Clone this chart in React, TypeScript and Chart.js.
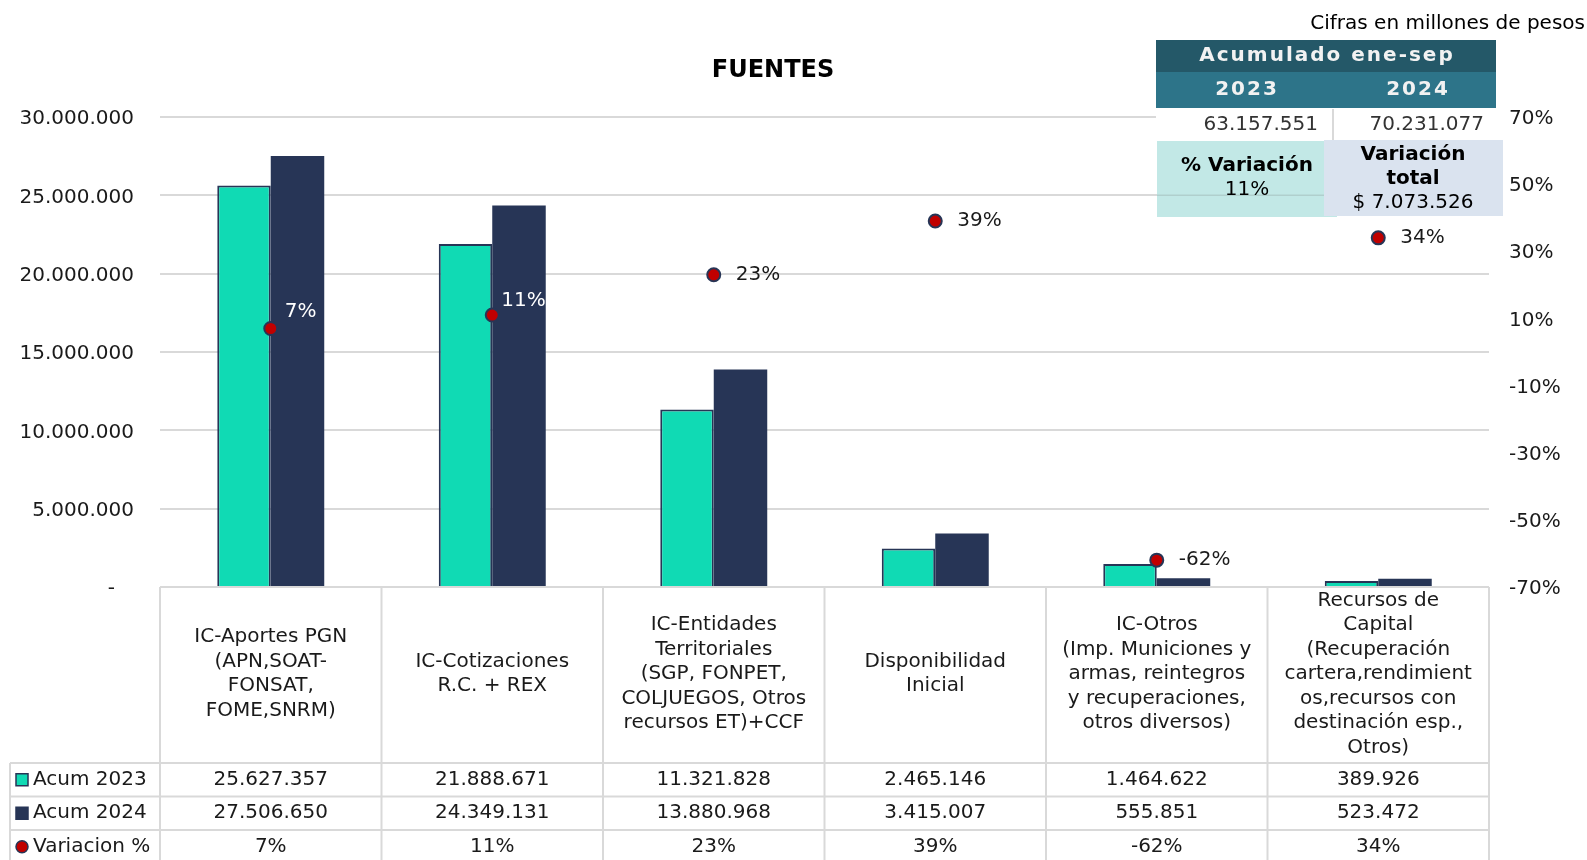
import React, { useEffect, useRef } from "react";
import { Chart, registerables } from "chart.js";

Chart.register(...registerables);

const categories: string[][] = [
  ["IC-Aportes PGN", "(APN,SOAT-", "FONSAT,", "FOME,SNRM)"],
  ["IC-Cotizaciones", "R.C. + REX"],
  ["IC-Entidades", "Territoriales", "(SGP, FONPET,", "COLJUEGOS, Otros", "recursos ET)+CCF"],
  ["Disponibilidad", "Inicial"],
  ["IC-Otros", "(Imp. Municiones y", "armas, reintegros", "y recuperaciones,", "otros diversos)"],
  ["Recursos de", "Capital", "(Recuperación", "cartera,rendimient", "os,recursos con", "destinación esp.,", "Otros)"],
];
const acum2023: number[] = [25627357, 21888671, 11321828, 2465146, 1464622, 389926];
const acum2024: number[] = [27506650, 24349131, 13880968, 3415007, 555851, 523472];
const variacion: number[] = [7, 11, 23, 39, -62, 34];
const seriesNames: string[] = ["Acum 2023", "Acum 2024", "Variacion %"];
const leftTicks = { min: 0, max: 30000000, step: 5000000 };
const rightTicks = { min: -70, max: 70, step: 20 };
const title = "FUENTES";
const unitsNote = "Cifras en millones de pesos";
const summaryHeader = "Acumulado ene-sep";
const summaryYears: string[] = ["2023", "2024"];
const summaryTotals: number[] = [63157551, 70231077];
const summaryPct = "11%";
const summaryDiff = "$ 7.073.526";

const TEAL = "#10dab4";
const NAVY = "#273556";
const RED = "#c00000";
const GRID = "#d9d9d9";
const TEXT = "#1a1a1a";
const FONT = "'DejaVu Sans', Verdana, sans-serif";

const fmt = (n: number) => Math.round(n).toString().replace(/\B(?=(\d{3})+(?!\d))/g, ".");

const tablePlugin = {
  id: "fuentesTable",
  afterDatasetsDraw(chart: any) {
    const ctx = chart.ctx;
    const meta = chart.getDatasetMeta(2);
    const dx = [14, 9, 22, 22, 22, 22];
    const dy = [-17, -14, 0, 0, 0, 0];
    const colors = ["#ffffff", "#ffffff", TEXT, TEXT, TEXT, TEXT];
    ctx.save();
    ctx.font = `20px ${FONT}`;
    ctx.textBaseline = "middle";
    ctx.textAlign = "left";
    meta.data.forEach((pt: any, i: number) => {
      ctx.fillStyle = colors[i];
      ctx.fillText(`${variacion[i]}%`, pt.x + dx[i], pt.y + dy[i]);
    });
    ctx.restore();
  },
  afterDraw(chart: any) {
    const ctx = chart.ctx;
    const { left, right, bottom } = chart.chartArea;
    const n = categories.length;
    const cw = (right - left) / n;
    const xs = chart.scales.x;
    const catBottom = 763;
    const rowH = 33.5;
    const H = chart.height;
    ctx.save();

    // grid lines of table
    ctx.strokeStyle = GRID;
    ctx.lineWidth = 2;
    ctx.beginPath();
    ctx.moveTo(left, bottom);
    ctx.lineTo(right, bottom);
    for (let k = 0; k <= n; k++) {
      const x = left + k * cw;
      ctx.moveTo(x, bottom);
      ctx.lineTo(x, H);
    }
    for (let r = 0; r < 3; r++) {
      const y = catBottom + r * rowH;
      ctx.moveTo(10, y);
      ctx.lineTo(right, y);
    }
    ctx.moveTo(10, catBottom);
    ctx.lineTo(10, H);
    ctx.stroke();

    ctx.fillStyle = TEXT;
    ctx.textAlign = "center";
    ctx.textBaseline = "middle";
    ctx.font = `20px ${FONT}`;
    const lh = 24.5;
    const cy = (bottom + catBottom) / 2 - 1;
    categories.forEach((lines, i) => {
      const cx = xs.getPixelForValue(i);
      lines.forEach((ln, j) => {
        ctx.fillText(ln, cx, cy + (j - (lines.length - 1) / 2) * lh);
      });
    });
    const rows = [acum2023.map(fmt), acum2024.map(fmt), variacion.map((v) => `${v}%`)];
    rows.forEach((vals, r) => {
      const y = catBottom + (r + 0.5) * rowH;
      vals.forEach((v, i) => ctx.fillText(v, xs.getPixelForValue(i), y));
    });

    // legend column
    ctx.textAlign = "left";
    seriesNames.forEach((name, r) => {
      const y = catBottom + (r + 0.5) * rowH;
      if (r < 2) {
        ctx.fillStyle = r === 0 ? TEAL : NAVY;
        ctx.fillRect(16, y - 6, 12, 12);
        ctx.strokeStyle = NAVY;
        ctx.lineWidth = 1.5;
        ctx.strokeRect(16, y - 6, 12, 12);
      } else {
        ctx.beginPath();
        ctx.arc(22, y, 6, 0, Math.PI * 2);
        ctx.fillStyle = RED;
        ctx.fill();
        ctx.strokeStyle = NAVY;
        ctx.lineWidth = 1.5;
        ctx.stroke();
      }
      ctx.fillStyle = TEXT;
      ctx.fillText(name, 33, y);
    });

    // title
    ctx.textAlign = "center";
    ctx.font = `bold 24px ${FONT}`;
    ctx.fillStyle = "#000";
    ctx.fillText(title, 773, 71);

    ctx.textAlign = "right";
    ctx.font = `20px ${FONT}`;
    ctx.fillText(unitsNote, 1585, 24);

    // summary table
    ctx.fillStyle = "#245868";
    ctx.fillRect(1156, 40, 340, 32);
    ctx.fillStyle = "#2d7489";
    ctx.fillRect(1156, 72, 340, 36);
    ctx.fillStyle = "#ffffff";
    ctx.fillRect(1156, 109, 340, 31);
    ctx.textAlign = "center";
    ctx.font = `bold 20px ${FONT}`;
    ctx.fillStyle = "#f2f2f2";
    (ctx as any).letterSpacing = "2px";
    ctx.fillText(summaryHeader, 1327, 56);
    ctx.fillText(summaryYears[0], 1247, 90);
    ctx.fillText(summaryYears[1], 1418, 90);
    (ctx as any).letterSpacing = "0px";
    ctx.strokeStyle = GRID;
    ctx.lineWidth = 2;
    ctx.beginPath();
    ctx.moveTo(1333, 109);
    ctx.lineTo(1333, 140);
    ctx.stroke();
    ctx.textAlign = "right";
    ctx.font = `20px ${FONT}`;
    ctx.fillStyle = "#333";
    ctx.fillText(fmt(summaryTotals[0]), 1318, 125);
    ctx.fillText(fmt(summaryTotals[1]), 1484, 125);

    ctx.fillStyle = "#c2e8e6";
    ctx.fillRect(1157, 141, 180, 76);
    const gy = chart.scales.y.getPixelForValue(25000000);
    ctx.strokeStyle = "#b0cfcd";
    ctx.lineWidth = 1.5;
    ctx.beginPath();
    ctx.moveTo(1157, gy);
    ctx.lineTo(1337, gy);
    ctx.stroke();
    ctx.fillStyle = "#dae3ef";
    ctx.fillRect(1324, 140, 179, 76);
    ctx.textAlign = "center";
    ctx.fillStyle = "#000";
    ctx.font = `bold 20px ${FONT}`;
    ctx.fillText("% Variación", 1247, 166);
    ctx.fillText("Variación", 1413, 155);
    ctx.fillText("total", 1413, 179);
    ctx.font = `20px ${FONT}`;
    ctx.fillText(summaryPct, 1247, 190);
    ctx.fillText(summaryDiff, 1413, 203);
    ctx.restore();
  },
};

export default function App() {
  const ref = useRef<HTMLCanvasElement | null>(null);
  useEffect(() => {
    if (!ref.current) return;
    const chart = new Chart(ref.current, {
      type: "bar",
      data: {
        labels: categories.map((c) => c.join(" ")),
        datasets: [
          {
            type: "bar",
            label: seriesNames[0],
            data: acum2023,
            backgroundColor: TEAL,
            borderColor: NAVY,
            borderWidth: 2,
            yAxisID: "y",
            order: 2,
          },
          {
            type: "bar",
            label: seriesNames[1],
            data: acum2024,
            backgroundColor: NAVY,
            borderColor: NAVY,
            borderWidth: 0,
            yAxisID: "y",
            order: 2,
          },
          {
            type: "line",
            label: seriesNames[2],
            data: variacion,
            yAxisID: "y1",
            showLine: false,
            pointRadius: 6.5,
            pointBorderWidth: 2,
            pointBackgroundColor: RED,
            pointBorderColor: NAVY,
            order: 0,
          } as any,
        ],
      },
      options: {
        responsive: false,
        animation: false,
        layout: { padding: { top: 117, bottom: 273, left: 0, right: 0 } },
        datasets: { bar: { categoryPercentage: 0.483, barPercentage: 1 } },
        plugins: { legend: { display: false }, title: { display: false }, tooltip: { enabled: false } },
        scales: {
          x: { display: false, offset: true },
          y: {
            position: "left",
            min: leftTicks.min,
            max: leftTicks.max,
            border: { display: false },
            grid: { color: GRID, lineWidth: 2, drawTicks: false },
            ticks: {
              stepSize: leftTicks.step,
              padding: 26,
              labelOffset: 2,
              color: TEXT,
              font: { family: FONT, size: 20 },
              callback: (v: any) => (Number(v) === 0 ? "-   " : fmt(Number(v))),
            },
            afterFit: (s: any) => {
              s.width = 160;
            },
          },
          y1: {
            position: "right",
            min: rightTicks.min,
            max: rightTicks.max,
            border: { display: false },
            grid: { display: false, drawTicks: false },
            ticks: {
              stepSize: rightTicks.step,
              padding: 20,
              labelOffset: 2,
              color: TEXT,
              font: { family: FONT, size: 20 },
              callback: (v: any) => `${Math.round(Number(v))}%`,
            },
            afterFit: (s: any) => {
              s.width = 98;
            },
          },
        },
      } as any,
      plugins: [tablePlugin],
    });
    return () => chart.destroy();
  }, []);
  return (
    <div style={{ position: "fixed", left: 0, top: 0, width: 1587, height: 860, background: "#fff" }}>
      <canvas ref={ref} width={1587} height={860} />
    </div>
  );
}
